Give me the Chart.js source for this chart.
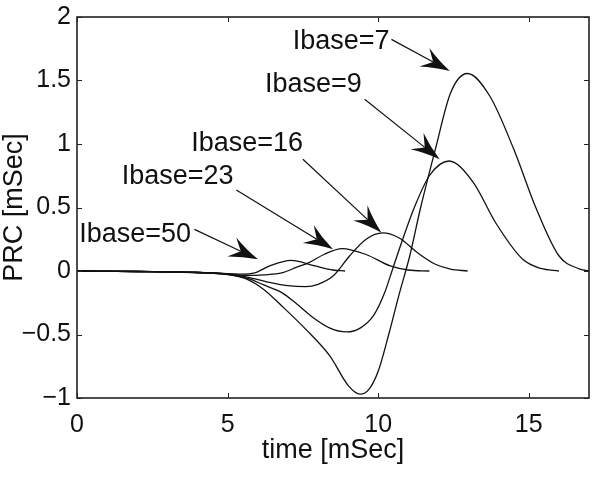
<!DOCTYPE html>
<html>
<head>
<meta charset="utf-8">
<title>PRC vs time</title>
<script src="https://cdn.jsdelivr.net/npm/chart.js@4.4.1/dist/chart.umd.min.js"></script>
<style>
  html, body { margin: 0; padding: 0; background: #fff; }
  canvas { display: block; }
</style>
</head>
<body>
<canvas id="chart" width="600" height="482"></canvas>
<script>
(() => {
  'use strict';

  // curves, x in mSec, PRC in mSec
  const xIbase7 = [0, 2, 4, 5, 5.6, 6.2, 6.8, 7.6, 8.4, 9.0, 9.4, 9.7, 10.0, 10.35, 10.7, 11.05, 11.4, 11.9, 12.4, 12.96, 13.7, 14.5, 15.25, 16.0, 16.7, 17];
  const yIbase7 = [0, -0.004, -0.012, -0.028, -0.06, -0.145, -0.275, -0.46, -0.67, -0.9, -0.97, -0.93, -0.79, -0.5, -0.18, 0.12, 0.49, 0.96, 1.4, 1.555, 1.38, 0.96, 0.49, 0.12, 0.015, 0];

  const xIbase9 = [0, 2, 4, 5, 5.7, 6.2, 6.8, 7.3, 7.8, 8.4, 8.95, 9.4, 9.85, 10.2, 10.5, 10.8, 11.2, 11.7, 12.35, 13.15, 13.9, 14.8, 15.4, 16.0];
  const yIbase9 = [0, -0.004, -0.012, -0.026, -0.06, -0.11, -0.17, -0.26, -0.36, -0.45, -0.48, -0.45, -0.35, -0.18, 0.03, 0.24, 0.5, 0.75, 0.866, 0.7, 0.38, 0.092, 0.02, 0];

  const xIbase16 = [0, 2, 4, 5, 5.7, 6.3, 7.0, 7.6, 8.0, 8.5, 9.05, 9.6, 10.15, 10.7, 11.3, 11.9, 12.4, 12.97];
  const yIbase16 = [0, -0.004, -0.012, -0.024, -0.05, -0.085, -0.115, -0.123, -0.105, -0.04, 0.118, 0.25, 0.3, 0.26, 0.145, 0.053, 0.015, 0];

  const xIbase23 = [0, 2, 4, 5, 5.7, 6.2, 6.8, 7.3, 7.7, 8.2, 8.8, 9.6, 10.4, 11.0, 11.7];
  const yIbase23 = [0, -0.004, -0.012, -0.022, -0.035, -0.03, -0.015, 0.03, 0.066, 0.13, 0.176, 0.13, 0.04, 0.008, 0];

  const xIbase50 = [0, 2, 4, 5, 5.5, 5.9, 6.4, 7.1, 7.9, 8.5, 8.9];
  const yIbase50 = [0, -0.004, -0.012, -0.02, -0.025, -0.015, 0.04, 0.084, 0.04, 0.008, 0];

  const xTicks = [0, 5, 10, 15];
  const yTicks = [-1, -0.5, 0, 0.5, 1, 1.5, 2];

  // annotations, all in data units
  const noteLabels = ['Ibase=7', 'Ibase=9', 'Ibase=16', 'Ibase=23', 'Ibase=50'];
  const noteX = [8.77, 7.85, 5.65, 3.34, 1.93];
  const noteY = [1.81, 1.47, 1.006, 0.746, 0.285];
  const arrowFromX = [10.44, 9.55, 7.5, 5.29, 3.9];
  const arrowFromY = [1.824, 1.352, 0.88, 0.638, 0.328];
  const arrowToX = [12.38, 12.04, 10.11, 8.5, 6.01];
  const arrowToY = [1.575, 0.88, 0.302, 0.171, 0.092];

  const FONT = '"Liberation Sans", Arial, Helvetica, sans-serif';
  const INK = '#111';

  const toPoints = (xs, ys) => xs.map((x, i) => ({ x: x, y: ys[i] }));

  const curve = (label, xs, ys) => ({
    label: label,
    data: toPoints(xs, ys),
    borderColor: INK,
    borderWidth: 1.3,
    pointRadius: 0,
    fill: false,
    cubicInterpolationMode: 'monotone'
  });

  const minusLabel = (v) => (v < 0 ? '\u2212' + Math.abs(v) : String(v));

  /**
   * Draws a line with a barbed, filled arrow head at (x1, y1)
   */
  const drawArrow = (ctx, x0, y0, x1, y1) => {
    const ang = Math.atan2(y1 - y0, x1 - x0);
    const len = 29;
    const half = 10.5;
    const notch = 19;
    ctx.beginPath();
    ctx.moveTo(x0, y0);
    ctx.lineTo(x1 - notch * Math.cos(ang), y1 - notch * Math.sin(ang));
    ctx.stroke();
    ctx.save();
    ctx.translate(x1, y1);
    ctx.rotate(ang);
    ctx.beginPath();
    ctx.moveTo(0, 0);
    ctx.quadraticCurveTo(-len * 0.55, -half * 0.4, -len, -half);
    ctx.lineTo(-notch, 0);
    ctx.lineTo(-len, half);
    ctx.quadraticCurveTo(-len * 0.55, half * 0.4, 0, 0);
    ctx.closePath();
    ctx.fill();
    ctx.restore();
  };

  const framePlugin = {
    id: 'frame',
    afterDatasetsDraw(chart) {
      const { ctx, chartArea: a, scales: { x, y } } = chart;
      ctx.save();
      ctx.strokeStyle = '#222';
      ctx.lineWidth = 1.6;
      ctx.strokeRect(a.left, a.top, a.right - a.left, a.bottom - a.top);
      ctx.lineWidth = 1;
      ctx.beginPath();
      xTicks.forEach((v) => {
        const px = Math.round(x.getPixelForValue(v)) + 0.5;
        ctx.moveTo(px, a.bottom);
        ctx.lineTo(px, a.bottom - 5);
        ctx.moveTo(px, a.top);
        ctx.lineTo(px, a.top + 5);
      });
      yTicks.forEach((v) => {
        const py = Math.round(y.getPixelForValue(v)) + 0.5;
        ctx.moveTo(a.left, py);
        ctx.lineTo(a.left + 5, py);
        ctx.moveTo(a.right, py);
        ctx.lineTo(a.right - 5, py);
      });
      ctx.stroke();
      ctx.restore();
    }
  };

  const notePlugin = {
    id: 'notes',
    afterDatasetsDraw(chart) {
      const { ctx, scales: { x, y } } = chart;
      ctx.save();
      ctx.fillStyle = INK;
      ctx.strokeStyle = INK;
      ctx.lineWidth = 1.2;
      ctx.font = '27px ' + FONT;
      ctx.textAlign = 'center';
      ctx.textBaseline = 'middle';
      noteLabels.forEach((text, i) => {
        ctx.fillText(text, x.getPixelForValue(noteX[i]), y.getPixelForValue(noteY[i]));
        drawArrow(ctx,
          x.getPixelForValue(arrowFromX[i]), y.getPixelForValue(arrowFromY[i]),
          x.getPixelForValue(arrowToX[i]), y.getPixelForValue(arrowToY[i]));
      });
      ctx.restore();
    }
  };

  const tickFont = { family: FONT, size: 25 };
  const titleFont = { family: FONT, size: 27, lineHeight: 1 };

  new Chart(document.getElementById('chart'), {
    type: 'line',
    data: {
      datasets: [
        curve('Ibase=7', xIbase7, yIbase7),
        curve('Ibase=9', xIbase9, yIbase9),
        curve('Ibase=16', xIbase16, yIbase16),
        curve('Ibase=23', xIbase23, yIbase23),
        curve('Ibase=50', xIbase50, yIbase50)
      ]
    },
    options: {
      responsive: false,
      animation: false,
      layout: { padding: { top: 17, right: 11, left: 0, bottom: 0 } },
      plugins: {
        legend: { display: false },
        tooltip: { enabled: false }
      },
      scales: {
        x: {
          type: 'linear',
          min: 0,
          max: 17,
          grid: { display: false, drawTicks: false },
          border: { display: false },
          afterBuildTicks: (scale) => { scale.ticks = xTicks.map((v) => ({ value: v })); },
          afterFit: (scale) => { scale.height = 84; scale.paddingLeft = 0; scale.paddingRight = 0; },
          ticks: { color: INK, font: tickFont, padding: 12, maxRotation: 0 },
          title: {
            display: true,
            text: 'time [mSec]',
            color: INK,
            font: titleFont,
            padding: { top: 0, bottom: 18 }
          }
        },
        y: {
          type: 'linear',
          min: -1,
          max: 2,
          grid: { display: false, drawTicks: false },
          border: { display: false },
          afterBuildTicks: (scale) => { scale.ticks = yTicks.map((v) => ({ value: v })); },
          afterFit: (scale) => { scale.width = 77; scale.paddingTop = 0; scale.paddingBottom = 0; },
          ticks: { color: INK, font: tickFont, padding: 6, callback: minusLabel },
          title: {
            display: true,
            text: 'PRC [mSec]',
            color: INK,
            font: titleFont,
            padding: { top: 1, bottom: 0 }
          }
        }
      }
    },
    plugins: [framePlugin, notePlugin]
  });
})();
</script>
</body>
</html>
